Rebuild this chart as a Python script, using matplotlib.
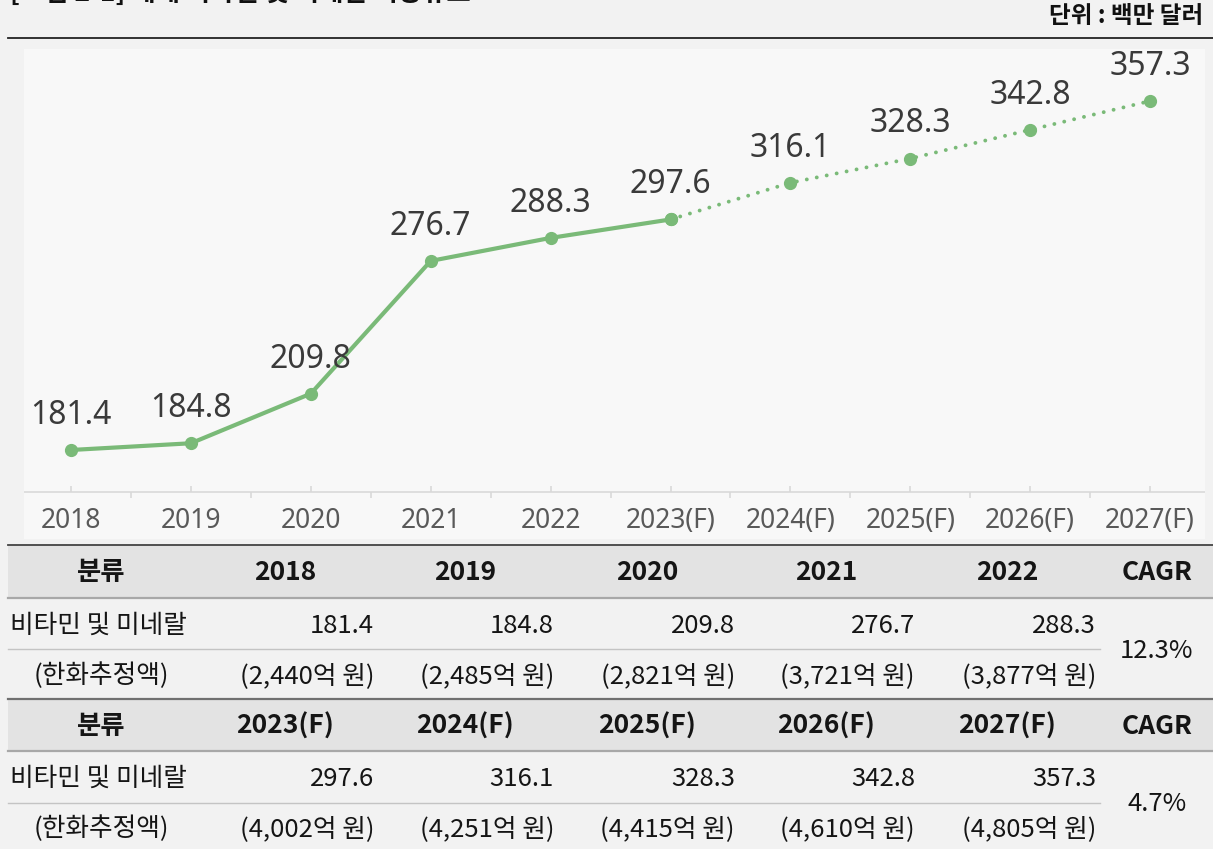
import matplotlib
matplotlib.use('Agg')
import matplotlib.pyplot as plt
from matplotlib.patches import Rectangle
from matplotlib.lines import Line2D

years = ['2018', '2019', '2020', '2021', '2022',
         '2023(F)', '2024(F)', '2025(F)', '2026(F)', '2027(F)']
values = [181.4, 184.8, 209.8, 276.7, 288.3, 297.6, 316.1, 328.3, 342.8, 357.3]
krw = ['2,440', '2,485', '2,821', '3,721', '3,877',
       '4,002', '4,251', '4,415', '4,610', '4,805']
cagr = ['12.3%', '4.7%']
n_actual = 6  # solid line up to 2023(F), dotted after

W, H = 1213, 849
BG = '#f2f2f2'
GREEN = '#7aba78'
KR = ['Noto Sans CJK KR', 'DejaVu Sans']

plt.rcParams['font.family'] = KR

fig = plt.figure(figsize=(W / 100, H / 100), dpi=100, facecolor=BG)


def fx(x):
    return x / W


def fy(y):
    return 1 - y / H


# title (cut off at top) and unit
fig.text(fx(10), fy(-7), '[그림 2-1] 세계 비타민 및 미네랄 시장규모', fontsize=19,
         fontweight='bold', ha='left', va='center', color='#111111')
fig.text(fx(1203), fy(16), '단위 : 백만 달러', fontsize=17, fontweight='bold',
         ha='right', va='center', color='#111111')
fig.add_artist(Line2D([fx(8), 1], [fy(38), fy(38)], color='#222222', lw=1.3))

# chart panel
px0, px1, py0, py1 = 24, 1205, 49, 539
ax = fig.add_axes([fx(px0), fy(py1), fx(px1 - px0), (py1 - py0) / H])
ax.set_facecolor('#f8f8f8')
for s in ax.spines.values():
    s.set_visible(False)
ax.set_xticks([])
ax.set_yticks([])

step = 119.9
ax.set_xlim((px0 - 71) / step, (px1 - 71) / step)
scale = 1.984
ax.set_ylim(181.4 - (py1 - 450) / scale, 181.4 + (450 - py0) / scale)

xs = list(range(len(years)))
base = 181.4 - (492 - 450) / scale
ax.axhline(base, color='#d9d9d9', lw=1.2)
ax.vlines(xs, base, base + 2.8, color='#d9d9d9', lw=1.2)
ax.vlines([i + 0.5 for i in xs], base - 2.8, base, color='#d9d9d9', lw=1.2)

ax.plot(xs[:n_actual], values[:n_actual], color=GREEN, lw=3, marker='o',
        markersize=8.5, solid_capstyle='round')
ax.plot(xs[n_actual - 1:], values[n_actual - 1:], color=GREEN, lw=2.8,
        linestyle=(0, (0.01, 2.6)), dash_capstyle='round', marker='o',
        markersize=8.5)

for i, v in zip(xs, values):
    ax.annotate(f'{v:.1f}', (i, v), xytext=(0, 13), textcoords='offset points',
                ha='center', va='bottom', fontsize=23, color='#3a3a3a',
                family=['Noto Sans', 'DejaVu Sans'])

label_y = 181.4 - (521 - 450) / scale
for i, yl in zip(xs, years):
    ax.text(i, label_y, yl, ha='center', va='center', fontsize=19,
            color='#595959', family=['Noto Sans', 'DejaVu Sans'])

# table
for top, bot in [(545, 598), (699, 751)]:
    fig.add_artist(Rectangle((fx(8), fy(bot)), 1 - fx(8), (bot - top) / H,
                             facecolor='#e3e3e3', edgecolor='none'))


def hline(y, x1, color, lw):
    fig.add_artist(Line2D([fx(8), fx(x1)], [fy(y), fy(y)], color=color, lw=lw))


hline(545, W, '#444444', 1.3)
hline(598, W, '#a8a8a8', 1.6)
hline(649, 1100, '#c4c4c4', 1.0)
hline(699, W, '#707070', 1.6)
hline(751, W, '#a8a8a8', 1.6)
hline(803, 1100, '#c4c4c4', 1.0)

col_c = [285, 465, 647, 826, 1007]
col_r = [376, 556, 737, 917, 1098]
first_c = 101
cagr_c = 1157
TXT = '#151515'
FS = 18.5

for blk, (yh, yv, yk, yc) in enumerate([(573, 626, 676, 651), (726, 779, 829, 804)]):
    fig.text(fx(first_c), fy(yh), '분류', ha='center', va='center',
             fontsize=19, fontweight='bold', color=TXT)
    fig.text(fx(cagr_c), fy(yh), 'CAGR', ha='center', va='center',
             fontsize=19, fontweight='bold', color=TXT)
    fig.text(fx(10), fy(yv), '비타민 및 미네랄', ha='left', va='center',
             fontsize=FS, color=TXT)
    fig.text(fx(first_c), fy(yk), '(한화추정액)', ha='center', va='center',
             fontsize=FS, color=TXT)
    fig.text(fx(cagr_c), fy(yc), cagr[blk], ha='center', va='center',
             fontsize=FS, color=TXT)
    for j in range(5):
        k = blk * 5 + j
        fig.text(fx(col_c[j]), fy(yh), years[k], ha='center', va='center',
                 fontsize=19, fontweight='bold', color=TXT)
        fig.text(fx(col_r[j] - 2), fy(yv), f'{values[k]:.1f}', ha='right',
                 va='center', fontsize=FS, color=TXT)
        fig.text(fx(col_r[j] - 2), fy(yk), f'({krw[k]}억 원)', ha='right',
                 va='center', fontsize=FS, color=TXT)

fig.savefig('out.png', dpi=100, facecolor=BG)
